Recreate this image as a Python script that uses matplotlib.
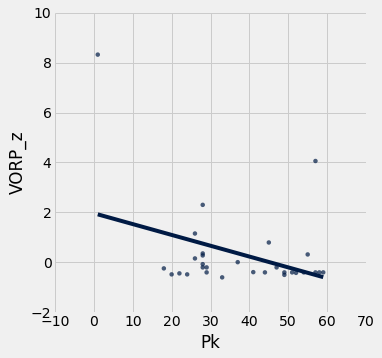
import numpy as np
import matplotlib
matplotlib.use("Agg")
import matplotlib.pyplot as plt

plt.style.use("fivethirtyeight")

pk = [1, 18, 20, 22, 24, 26, 26, 28, 28, 28, 28, 28, 29, 29, 33, 37, 41, 44, 45,
      47, 49, 49, 51, 52, 54, 55, 57, 57, 58, 59]
vorp_z = [8.33, -0.25, -0.49, -0.45, -0.49, 1.15, 0.15, 2.30, 0.35, 0.27, -0.08,
          -0.21, -0.21, -0.41, -0.61, 0.0, -0.40, -0.41, 0.79, -0.21, -0.41, -0.51,
          -0.41, -0.43, -0.41, 0.31, 4.06, -0.41, -0.41, -0.41]

x = np.array(pk, dtype=float)
y = np.array(vorp_z, dtype=float)

fig = plt.figure(figsize=(382/72, 358/72), dpi=72)
fig.patch.set_facecolor("#f0f0f0")
ax = fig.add_axes([55/382, 1-312/358, (366-55)/382, (312-13)/358])
ax.set_facecolor("#f0f0f0")

navy = (0.0, 0.102, 0.267)
ax.scatter(x, y, s=20, color=navy, alpha=0.7, edgecolors="none", zorder=3)
m, b = np.polyfit(x, y, 1)
xs = np.array([x.min(), x.max()])
ax.plot(xs, m*xs + b, color=navy, lw=4, zorder=4)

ax.set_xlim(-10, 70)
ax.set_ylim(-2, 10)
ax.set_xticks(np.arange(-10, 71, 10))
ax.set_yticks(np.arange(-2, 11, 2))
ax.set_xlabel("Pk")
ax.set_ylabel("VORP_z")
ax.grid(True, color="#cbcbcb", lw=1)
for s in ax.spines.values():
    s.set_visible(False)

fig.savefig("out.png", dpi=72, facecolor=fig.get_facecolor())
